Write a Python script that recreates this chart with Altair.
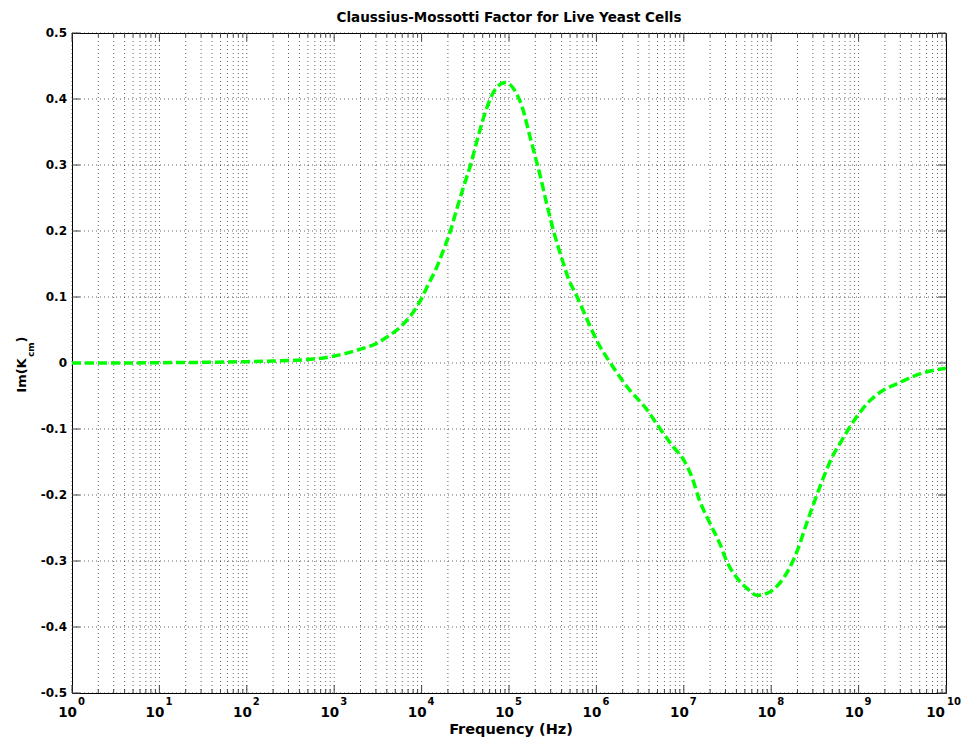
import altair as alt
import pandas as pd

# ---- data ----
log_freq = [0.0, 0.5, 1.0, 1.5, 2.0, 2.3, 2.61, 2.96, 3.30, 3.49, 3.60, 3.76, 3.91,
            4.00, 4.08, 4.16, 4.25, 4.33, 4.40, 4.48, 4.56, 4.63, 4.75, 4.84, 4.96,
            5.05, 5.15, 5.24, 5.28, 5.36, 5.43, 5.51, 5.61, 5.68, 5.78, 5.93, 6.02,
            6.16, 6.35, 6.58, 6.73, 6.88, 7.00, 7.09, 7.18, 7.30, 7.41, 7.49, 7.61,
            7.72, 7.84, 7.95, 8.10, 8.20, 8.30, 8.40, 8.50, 8.60, 8.70, 8.80, 8.90, 9.02,
            9.13, 9.25, 9.48, 9.71, 10.0]
im_kcm = [0.0, 0.0, 0.0005, 0.001, 0.002, 0.003, 0.0045, 0.0096, 0.021, 0.030, 0.039, 0.055, 0.078,
          0.098, 0.120, 0.141, 0.171, 0.200, 0.232, 0.267, 0.300, 0.335, 0.388, 0.414, 0.425,
          0.416, 0.388, 0.343, 0.323, 0.282, 0.242, 0.200, 0.156, 0.128, 0.100, 0.055, 0.030,
          0.0, -0.036, -0.071, -0.100, -0.127, -0.147, -0.172, -0.208, -0.243, -0.273, -0.300, -0.326,
          -0.341, -0.352, -0.349, -0.333, -0.313, -0.284, -0.245, -0.208, -0.173, -0.142, -0.119, -0.097, -0.074,
          -0.057, -0.044, -0.029, -0.016, -0.008]

decade_exponents = [0, 1, 2, 3, 4, 5, 6, 7, 8, 9, 10]
minor_multipliers = [2, 3, 4, 5, 6, 7, 8, 9]
y_tick_values = [-0.5, -0.4, -0.3, -0.2, -0.1, 0.0, 0.1, 0.2, 0.3, 0.4, 0.5]
y_tick_labels = ["-0.5", "-0.4", "-0.3", "-0.2", "-0.1", "0", "0.1", "0.2", "0.3", "0.4", "0.5"]

title_text = "Claussius-Mossotti Factor for Live Yeast Cells"
x_title = "Frequency (Hz)"

W, H = 874, 660
FONT = "DejaVu Sans"

curve = pd.DataFrame({"freq": [10.0 ** v for v in log_freq], "val": im_kcm})
majors = pd.DataFrame({"freq": [10.0 ** e for e in decade_exponents],
                       "exp": [str(e) for e in decade_exponents],
                       "e": decade_exponents})
minors = pd.DataFrame({"freq": [m * 10.0 ** e for e in decade_exponents[:-1] for m in minor_multipliers]})
yt = pd.DataFrame({"val": y_tick_values, "label": y_tick_labels})

xscale = alt.Scale(type="log", domain=[1, 1e10])
yscale = alt.Scale(domain=[-0.5, 0.5])
X = alt.X("freq:Q", scale=xscale, axis=None)
Y = alt.Y("val:Q", scale=yscale, axis=None)

grid_style = dict(strokeDash=[1, 3], color="#000000", strokeWidth=1, opacity=0.6)
tick_color = "#444444"

vgrid_major = alt.Chart(majors).mark_rule(**grid_style).encode(x=X, y=alt.value(0), y2=alt.value(H))
vgrid_minor = alt.Chart(minors).mark_rule(**grid_style).encode(x=X, y=alt.value(0), y2=alt.value(H))
hgrid = alt.Chart(yt).mark_rule(**grid_style).encode(y=Y, x=alt.value(0), x2=alt.value(W))

tick_major_b = alt.Chart(majors).mark_rule(color=tick_color).encode(x=X, y=alt.value(H), y2=alt.value(H - 8))
tick_major_t = alt.Chart(majors).mark_rule(color=tick_color).encode(x=X, y=alt.value(0), y2=alt.value(8))
tick_minor_b = alt.Chart(minors).mark_rule(color=tick_color).encode(x=X, y=alt.value(H), y2=alt.value(H - 4))
tick_minor_t = alt.Chart(minors).mark_rule(color=tick_color).encode(x=X, y=alt.value(0), y2=alt.value(4))
tick_l = alt.Chart(yt).mark_rule(color=tick_color).encode(y=Y, x=alt.value(0), x2=alt.value(8))
tick_r = alt.Chart(yt).mark_rule(color=tick_color).encode(y=Y, x=alt.value(W), x2=alt.value(W - 8))

line = alt.Chart(curve).mark_line(
    color="#00FF00", strokeWidth=3.5, strokeDash=[9, 4], interpolate="monotone"
).encode(x=X, y=Y)

ylabels = alt.Chart(yt).mark_text(
    align="right", baseline="middle", font=FONT, fontWeight="bold", fontSize=12, color="black"
).encode(y=Y, x=alt.value(-5), text="label:N")

base10_single = alt.Chart(majors).transform_filter("datum.e < 10").mark_text(
    align="right", baseline="alphabetic", font=FONT, fontWeight="bold", fontSize=13.5, dx=5, color="black"
).encode(x=X, y=alt.value(H + 24), text=alt.value("10"))
exp_single = alt.Chart(majors).transform_filter("datum.e < 10").mark_text(
    align="left", baseline="alphabetic", font=FONT, fontWeight="bold", fontSize=10, dx=6, color="black"
).encode(x=X, y=alt.value(H + 12), text="exp:N")
base10_double = alt.Chart(majors).transform_filter("datum.e >= 10").mark_text(
    align="right", baseline="alphabetic", font=FONT, fontWeight="bold", fontSize=13.5, dx=-1, color="black"
).encode(x=X, y=alt.value(H + 24), text=alt.value("10"))
exp_double = alt.Chart(majors).transform_filter("datum.e >= 10").mark_text(
    align="left", baseline="alphabetic", font=FONT, fontWeight="bold", fontSize=10, dx=1, color="black"
).encode(x=X, y=alt.value(H + 12), text="exp:N")

title_mark = alt.Chart(pd.DataFrame({"t": [title_text]})).mark_text(
    align="center", baseline="alphabetic", font=FONT, fontWeight="bold", fontSize=13.5, color="black"
).encode(x=alt.value(W / 2), y=alt.value(-11.5), text="t:N")
xtitle_mark = alt.Chart(pd.DataFrame({"t": [x_title]})).mark_text(
    align="center", baseline="alphabetic", font=FONT, fontWeight="bold", fontSize=14.5, color="black"
).encode(x=alt.value(W / 2 + 2), y=alt.value(H + 41), text="t:N")

ytitle_main = alt.Chart(pd.DataFrame({"t": ["Im(K"]})).mark_text(
    align="left", baseline="alphabetic", angle=270, font=FONT, fontWeight="bold", fontSize=13, color="black"
).encode(x=alt.value(-46.5), y=alt.value(359.7), text="t:N")
ytitle_sub = alt.Chart(pd.DataFrame({"t": ["cm"]})).mark_text(
    align="left", baseline="alphabetic", angle=270, font=FONT, fontWeight="bold", fontSize=9, color="black"
).encode(x=alt.value(-38.5), y=alt.value(324.0), text="t:N")
ytitle_close = alt.Chart(pd.DataFrame({"t": [")"]})).mark_text(
    align="left", baseline="alphabetic", angle=270, font=FONT, fontWeight="bold", fontSize=13, color="black"
).encode(x=alt.value(-46.5), y=alt.value(309.5), text="t:N")

chart = alt.layer(
    vgrid_minor, vgrid_major, hgrid,
    tick_minor_b, tick_minor_t, tick_major_b, tick_major_t, tick_l, tick_r,
    line,
    ylabels, base10_single, exp_single, base10_double, exp_double,
    title_mark, xtitle_mark, ytitle_main, ytitle_sub, ytitle_close,
).properties(
    width=W, height=H,
    autosize=alt.AutoSizeParams(type="none"),
    padding={"left": 72, "top": 33, "right": 15, "bottom": 51},
    background="white",
).configure_view(stroke="black", strokeWidth=1)

chart.save("out.html", embed_options={"renderer": "svg", "actions": False})
